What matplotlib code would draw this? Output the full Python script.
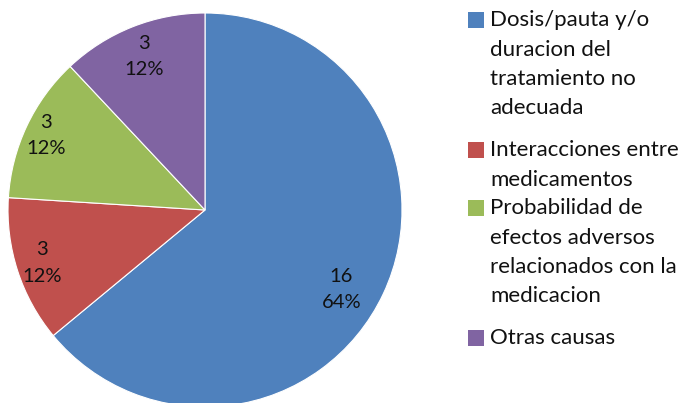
import numpy as np
import matplotlib.pyplot as plt
from matplotlib.patches import Rectangle

# datos del grafico
categorias = [
    "Dosis/pauta y/o duracion del tratamiento no adecuada",
    "Interacciones entre medicamentos",
    "Probabilidad de efectos adversos relacionados con la medicacion",
    "Otras causas",
]
lineas_leyenda = [
    ["Dosis/pauta y/o", "duracion del", "tratamiento no", "adecuada"],
    ["Interacciones entre", "medicamentos"],
    ["Probabilidad de", "efectos adversos", "relacionados con la", "medicacion"],
    ["Otras causas"],
]
valores = [16, 3, 3, 3]
colores = ["#4F81BD", "#C0504D", "#9BBB59", "#8064A2"]

FONT = "Lato"
W, H = 687, 403
CX, CY, R = 205, H - 210, 197

fig = plt.figure(figsize=(W / 100, H / 100), dpi=100)
fig.patch.set_facecolor("white")
ax = fig.add_axes([0, 0, 1, 1])

total = sum(valores)


def etiqueta(p):
    return f"{round(p * total / 100)}\n{p:.0f}%"


wedges, texts, autotexts = ax.pie(
    valores, colors=colores, startangle=90, counterclock=False,
    center=(CX, CY), radius=R,
    autopct=etiqueta, pctdistance=0.82,
    wedgeprops=dict(edgecolor="white", linewidth=0.8),
    textprops=dict(fontsize=14.5, color="#111111", family=FONT),
)
# distancia / desvio angular de cada etiqueta (ajuste fino)
dist = [0.80, 0.87, 0.89, 0.84]
desvio = [-5, 0, 0, 0]
for w, t, d, dv in zip(wedges, autotexts, dist, desvio):
    t.set_linespacing(1.65)
    a = np.deg2rad((w.theta1 + w.theta2) / 2 + dv)
    t.set_position((CX + d * R * np.cos(a), CY + d * R * np.sin(a)))

ax.set_xlim(0, W)
ax.set_ylim(0, H)
ax.set_aspect("equal")
ax.axis("off")

# leyenda a mano (cuadro alineado con la primera linea)
y_items = [20, 150, 208, 338]
paso = 29.5
for lineas, col, y0 in zip(lineas_leyenda, colores, y_items):
    ax.add_patch(Rectangle((468, H - y0 - 8), 16, 16, facecolor=col, edgecolor="none"))
    for i, ln in enumerate(lineas):
        ax.text(490, H - y0 - i * paso, ln, fontsize=16, family=FONT,
                color="#111111", va="center")

fig.savefig("out.png", dpi=100, facecolor="white")
